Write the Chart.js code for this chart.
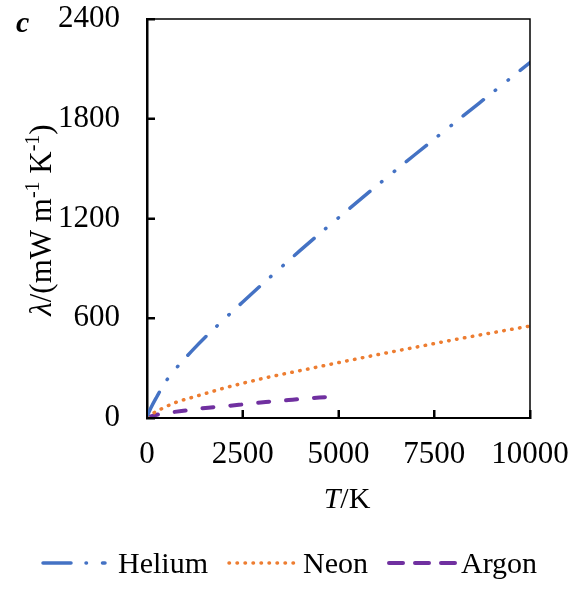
<!DOCTYPE html>
<html>
<head>
<meta charset="utf-8">
<script src="https://cdn.jsdelivr.net/npm/chart.js@4.4.1/dist/chart.umd.min.js"></script>
<style>
  html, body { margin: 0; padding: 0; background: #fff; }
</style>
</head>
<body>
<canvas id="chart" width="574" height="593"></canvas>
<script>
// 数据 (T / K , λ / mW m-1 K-1)
const heliumT = [10, 100, 250, 430, 660, 930, 1210, 1500, 2000, 2500, 3000, 4000, 5000, 6000, 7000, 8000, 9000, 10000];
const heliumL = [15, 60, 125, 198, 272, 343, 413, 481, 591, 698, 803, 1008, 1205, 1397, 1585, 1770, 1954, 2138];

const neonT = [10, 100, 400, 800, 1200, 1600, 2000, 2400, 3200, 4000, 5000, 6000, 7000, 8000, 9000, 10000];
const neonL = [5, 20, 58, 98, 125, 152, 179, 203, 247, 285, 333, 380, 425, 470, 512, 553];

const argonT = [10, 100, 380, 600, 900, 1600, 2400, 3100, 3800, 4500, 4750];
const argonL = [2, 10, 26, 33, 42, 62, 79, 96, 110, 123, 127];

const seriesNames = ['Helium', 'Neon', 'Argon'];
const xTicks = [0, 2500, 5000, 7500, 10000];
const yTicks = [0, 600, 1200, 1800, 2400];

const SERIF = '"Liberation Serif", "Times New Roman", serif';

function pairs(xs, ys) {
    return xs.map((x, i) => ({ x: x, y: ys[i] }));
}

// 坐标框、刻度、轴标题、图例
const decorPlugin = {
    id: 'decor',
    afterDraw(chart) {
        const ctx = chart.ctx;
        const ca = chart.chartArea;
        const sx = chart.scales.x;
        const sy = chart.scales.y;
        ctx.save();

        // 外框
        ctx.strokeStyle = '#000';
        ctx.lineWidth = 1.5;
        ctx.setLineDash([]);
        ctx.strokeRect(ca.left, ca.top, ca.right - ca.left, ca.bottom - ca.top);

        // 内向刻度
        ctx.lineWidth = 2;
        ctx.beginPath();
        xTicks.forEach(v => {
            const px = Math.round(sx.getPixelForValue(v));
            ctx.moveTo(px, ca.bottom);
            ctx.lineTo(px, ca.bottom - 8);
        });
        yTicks.forEach(v => {
            const py = Math.round(sy.getPixelForValue(v));
            ctx.moveTo(ca.left, py);
            ctx.lineTo(ca.left + 8, py);
        });
        ctx.stroke();

        ctx.fillStyle = '#000';
        ctx.textBaseline = 'alphabetic';

        // 面板标记
        ctx.font = 'italic bold 30px ' + SERIF;
        ctx.textAlign = 'left';
        ctx.fillText('c', 16, 32);

        // x 轴标题
        drawRich(ctx, [
            { t: 'T', f: 'italic 30px ' + SERIF },
            { t: '/K', f: '30px ' + SERIF }
        ], 347, 508);

        // y 轴标题 (旋转)
        ctx.save();
        ctx.translate(51, 220);
        ctx.rotate(-Math.PI / 2);
        drawRich(ctx, [
            { t: 'λ', f: 'italic 31px ' + SERIF },
            { t: '/(mW m', f: '31px ' + SERIF },
            { t: '-1', f: '20px ' + SERIF, dy: -12 },
            { t: ' K', f: '31px ' + SERIF },
            { t: '-1', f: '20px ' + SERIF, dy: -12 },
            { t: ')', f: '31px ' + SERIF }
        ], 0, 0);
        ctx.restore();

        // 图例
        const legendY = 563;
        const slots = [
            { x0: 43, x1: 105, tx: 118 },
            { x0: 229, x1: 295, tx: 303 },
            { x0: 389, x1: 456, tx: 461 }
        ];
        chart.data.datasets.forEach((ds, i) => {
            const s = slots[i];
            ctx.beginPath();
            ctx.strokeStyle = ds.borderColor;
            ctx.lineWidth = ds.borderWidth;
            ctx.lineCap = ds.borderCapStyle;
            ctx.setLineDash(ds.legendDash || ds.borderDash);
            ctx.moveTo(s.x0, legendY);
            ctx.lineTo(s.x1, legendY);
            ctx.stroke();
            ctx.setLineDash([]);
            ctx.fillStyle = '#000';
            ctx.font = '30px ' + SERIF;
            ctx.textAlign = 'left';
            ctx.fillText(ds.label, s.tx, 573);
        });

        ctx.restore();
    }
};

function drawRich(ctx, parts, cx, y) {
    let total = 0;
    parts.forEach(p => { ctx.font = p.f; total += ctx.measureText(p.t).width; });
    let x = cx - total / 2;
    ctx.textAlign = 'left';
    parts.forEach(p => {
        ctx.font = p.f;
        ctx.fillText(p.t, x, y + (p.dy || 0));
        x += ctx.measureText(p.t).width;
    });
}

const ctx = document.getElementById('chart');

new Chart(ctx, {
    type: 'line',
    data: {
        datasets: [
            {
                label: seriesNames[0],
                data: pairs(heliumT, heliumL),
                borderColor: '#4472C4',
                borderWidth: 3.5,
                borderCapStyle: 'round',
                borderDash: [26, 15, 0.5, 16, 0.5, 15],
                legendDash: [28, 15, 0.5, 16],
                cubicInterpolationMode: 'monotone',
                pointRadius: 0,
                fill: false
            },
            {
                label: seriesNames[1],
                data: pairs(neonT, neonL),
                borderColor: '#ED7D31',
                borderWidth: 3.5,
                borderCapStyle: 'round',
                borderDash: [0.5, 7.5],
                cubicInterpolationMode: 'monotone',
                pointRadius: 0,
                fill: false
            },
            {
                label: seriesNames[2],
                data: pairs(argonT, argonL),
                borderColor: '#7030A0',
                borderWidth: 4,
                borderCapStyle: 'round',
                borderDash: [11, 17],
                legendDash: [14, 12],
                cubicInterpolationMode: 'monotone',
                pointRadius: 0,
                fill: false
            }
        ]
    },
    options: {
        responsive: false,
        animation: false,
        devicePixelRatio: 1,
        layout: { padding: { top: 19, right: 44, left: 0, bottom: 0 } },
        plugins: {
            legend: { display: false },
            tooltip: { enabled: false }
        },
        scales: {
            x: {
                type: 'linear',
                min: 0,
                max: 10000,
                afterBuildTicks: s => { s.ticks = xTicks.map(v => ({ value: v })); },
                afterFit: s => {
                    s.height = 175;
                    s.paddingLeft = 0;
                    s.paddingRight = 0;
                },
                ticks: {
                    color: '#000',
                    padding: 26,
                    maxRotation: 0,
                    callback: v => String(v),
                    font: { family: SERIF, size: 31 }
                },
                grid: {
                    drawOnChartArea: false,
                    drawTicks: true,
                    tickLength: -8,
                    tickWidth: 2,
                    tickColor: '#000'
                },
                border: { color: '#000', width: 2 }
            },
            y: {
                type: 'linear',
                min: 0,
                max: 2400,
                afterBuildTicks: s => { s.ticks = yTicks.map(v => ({ value: v })); },
                afterFit: s => {
                    s.width = 147;
                    s.paddingTop = 0;
                    s.paddingBottom = 0;
                },
                ticks: {
                    color: '#000',
                    padding: 35,
                    callback: v => String(v),
                    font: { family: SERIF, size: 31 }
                },
                grid: {
                    drawOnChartArea: false,
                    drawTicks: true,
                    tickLength: -8,
                    tickWidth: 2,
                    tickColor: '#000'
                },
                border: { color: '#000', width: 2.5 }
            }
        }
    },
    plugins: [decorPlugin]
});
</script>
</body>
</html>
